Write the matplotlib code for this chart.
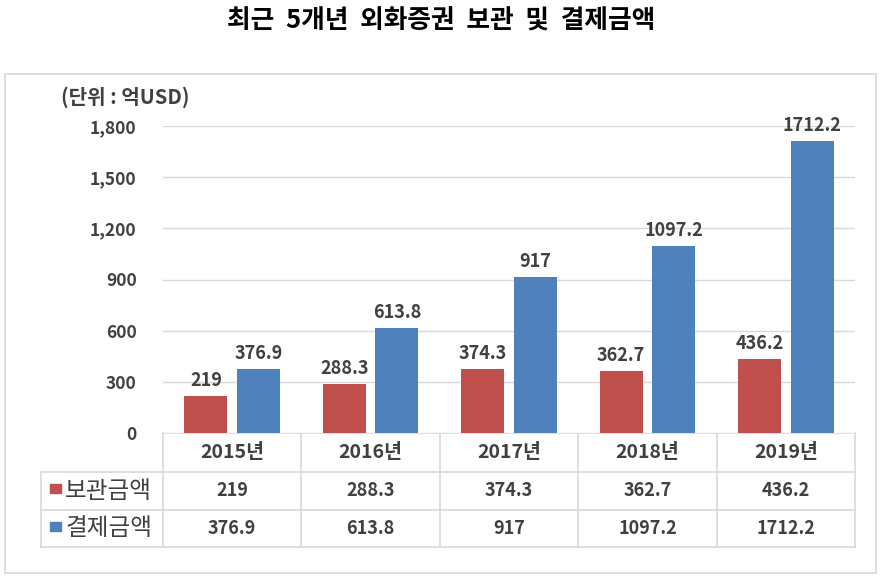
import matplotlib.pyplot as plt
import numpy as np

plt.rcParams['font.family'] = ['Noto Sans CJK KR', 'DejaVu Sans']

years = ["2015년", "2016년", "2017년", "2018년", "2019년"]
custody = [219, 288.3, 374.3, 362.7, 436.2]
settle = [376.9, 613.8, 917, 1097.2, 1712.2]
custody_lbl = ["219", "288.3", "374.3", "362.7", "436.2"]
settle_lbl = ["376.9", "613.8", "917", "1097.2", "1712.2"]
series_names = ["보관금액", "결제금액"]
yticks = [0, 300, 600, 900, 1200, 1500, 1800]

RED = '#C0504D'
BLUE = '#4F81BD'
TXT = '#404040'
GRID = '#D9D9D9'

W, H = 883, 579
fig = plt.figure(figsize=(W / 100, H / 100), dpi=100)

# pixel layout
px_l, px_r = 163, 855
px_top, px_base = 126, 433
ax = fig.add_axes([px_l / W, 1 - px_base / H, (px_r - px_l) / W, (px_base - px_top) / H])

X = np.arange(len(years))
bw = 0.31
off = 0.19
ax.bar(X - off, custody, width=bw, color=RED, zorder=3)
ax.bar(X + off, settle, width=bw, color=BLUE, zorder=3)
for i in range(len(years)):
    ax.text(X[i] - off, custody[i] + 35, custody_lbl[i], ha='center', va='bottom',
            fontsize=13, fontweight='bold', color=TXT, clip_on=False)
    ax.text(X[i] + off, settle[i] + 35, settle_lbl[i], ha='center', va='bottom',
            fontsize=13, fontweight='bold', color=TXT, clip_on=False)

ax.set_xlim(-0.5, len(years) - 0.5)
ax.set_ylim(0, 1800)
ax.set_yticks(yticks)
ax.set_yticklabels([f"{v:,}" for v in yticks], fontsize=12.5, fontweight='bold', color=TXT)
ax.tick_params(axis='y', length=0, pad=19)
ax.set_xticks([])
ax.grid(axis='y', color=GRID, linewidth=1, zorder=0)
for s in ax.spines.values():
    s.set_visible(False)

# overlay in pixel coordinates
ov = fig.add_axes([0, 0, 1, 1], zorder=-1)
ov.set_xlim(0, W)
ov.set_ylim(H, 0)
ov.axis('off')
ov.add_patch(plt.Rectangle((5, 74), 871, 499, fill=False, edgecolor=GRID, linewidth=1.2))

# title and unit
fig.text(0.5, 1 - 21 / H, "최근  5개년  외화증권  보관  및  결제금액", ha='center', va='center',
         fontsize=18.5, fontweight='bold', color='black')
ov.text(61, 97, "(단위 : 억USD)", ha='left', va='center', fontsize=14.5, fontweight='bold', color=TXT)

# data table
col_w = (px_r - px_l) / len(years)
rows = [433, 472, 510, 547]
leg_l = 41
lc = GRID
ov.plot([px_l, px_r], [rows[0], rows[0]], color=lc, lw=1.2)
for y in rows[1:]:
    ov.plot([leg_l, px_r], [y, y], color=lc, lw=1.2)
ov.plot([leg_l, leg_l], [rows[1], rows[3]], color=lc, lw=1.2)
for j in range(len(years) + 1):
    x = px_l + j * col_w
    ov.plot([x, x], [rows[0], rows[3]], color=lc, lw=1.2)

for j, yr in enumerate(years):
    cx = px_l + (j + 0.5) * col_w
    ov.text(cx, (rows[0] + rows[1]) / 2, yr, ha='center', va='center',
            fontsize=14, fontweight='bold', color=TXT)
    ov.text(cx, (rows[1] + rows[2]) / 2, custody_lbl[j], ha='center', va='center',
            fontsize=13, fontweight='bold', color=TXT)
    ov.text(cx, (rows[2] + rows[3]) / 2, settle_lbl[j], ha='center', va='center',
            fontsize=13, fontweight='bold', color=TXT)

for k, (name, col) in enumerate(zip(series_names, [RED, BLUE])):
    cy = (rows[k + 1] + rows[k + 2]) / 2
    ov.add_patch(plt.Rectangle((50, cy - 7), 11, 9, color=col))
    ov.text(65, cy, name, ha='left', va='center', fontsize=17, color=TXT)

fig.savefig("out.png", dpi=100)
